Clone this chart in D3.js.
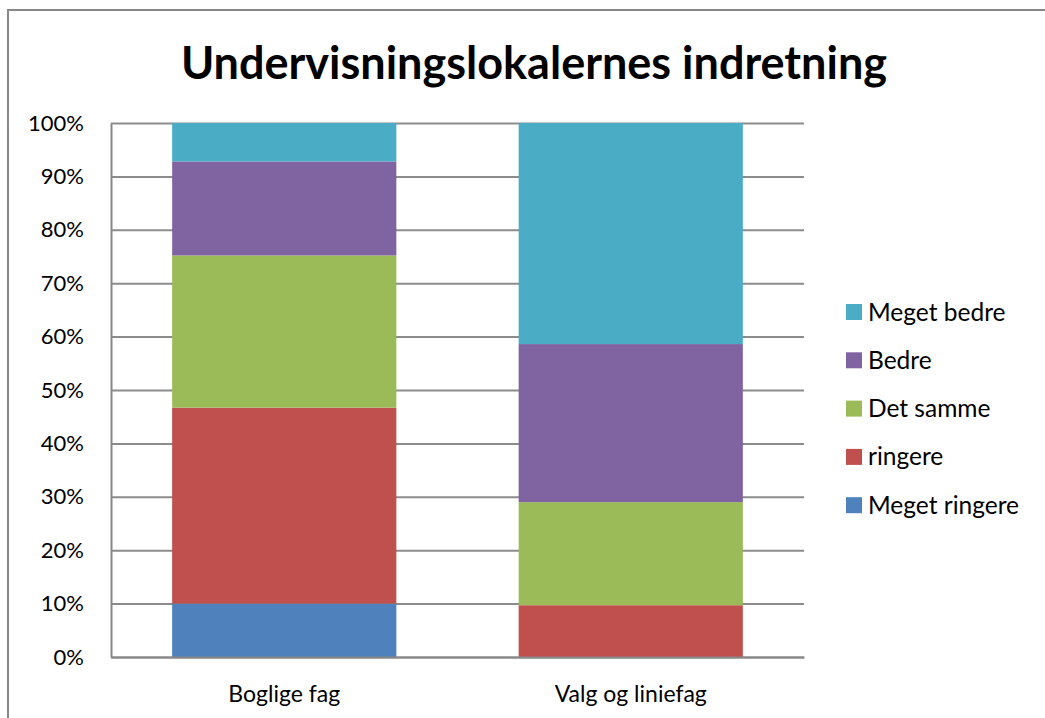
<!DOCTYPE html>
<html lang="da">
<head>
<meta charset="utf-8">
<title>Undervisningslokalernes indretning</title>
<script src="https://d3js.org/d3.v7.min.js"></script>
<style>
  body { margin: 0; background: #fff; }
  svg text { font-family: Lato, "Open Sans", sans-serif; fill: #000; }
  .axis .domain { stroke: #888; stroke-width: 2; }
  .grid line { stroke: #8c8c8c; stroke-width: 2; }
  .grid .domain { display: none; }
</style>
</head>
<body>
<script>
var categories = ['Boglige fag', 'Valg og liniefag'];
var seriesNames = ['Meget ringere', 'ringere', 'Det samme', 'Bedre', 'Meget bedre'];
var seriesColors = ['#4f81bd', '#c0504d', '#9bbb59', '#8064a2', '#4bacc6'];
// percent per category, same order as seriesNames
var boglige = [10.0, 36.7, 28.5, 17.6, 7.2];
var valg = [0, 9.7, 19.3, 29.6, 41.4];
var yTicks = [0, 10, 20, 30, 40, 50, 60, 70, 80, 90, 100];

var w = 1045, h = 718;
var margin = {top: 123, left: 111, right: 241, bottom: 61};
var innerW = w - margin.left - margin.right,
    innerH = h - margin.top - margin.bottom;

var rows = categories.map(function(c, i) {
  var vals = i === 0 ? boglige : valg;
  var r = {cat: c};
  seriesNames.forEach(function(s, j) { r[s] = vals[j]; });
  return r;
});
var stacked = d3.stack().keys(seriesNames)(rows);

var x = d3.scaleBand().domain(categories).range([0, innerW])
  .paddingInner(0.353).paddingOuter(0.1765);
var y = d3.scaleLinear().domain([0, 100]).range([innerH, 0]);
var color = d3.scaleOrdinal().domain(seriesNames).range(seriesColors);

var svg = d3.select('body').append('svg')
  .attr('width', w).attr('height', h);

// chart border
svg.append('rect')
  .attr('x', 8).attr('y', 10).attr('width', w + 10).attr('height', h + 10)
  .attr('fill', 'none').attr('stroke', '#888').attr('stroke-width', 2);

svg.append('text')
  .attr('x', 534).attr('y', 79)
  .attr('text-anchor', 'middle')
  .style('font-size', '45px').style('font-weight', 'bold')
  .text('Undervisningslokalernes indretning');

var g = svg.append('g')
  .attr('transform', 'translate(' + [margin.left, margin.top] + ')');

g.append('g').attr('class', 'grid')
  .call(d3.axisLeft(y).tickValues(yTicks).tickSize(-innerW).tickFormat(''));

g.selectAll('.series')
  .data(stacked)
  .enter().append('g')
    .attr('class', 'series')
    .attr('fill', function(d) { return color(d.key); })
  .selectAll('rect')
  .data(function(d) { return d; })
  .enter().append('rect')
    .attr('x', function(d) { return x(d.data.cat); })
    .attr('width', x.bandwidth())
    .attr('y', function(d) { return y(d[1]); })
    .attr('height', function(d) { return y(d[0]) - y(d[1]); });

var yAxis = g.append('g').attr('class', 'axis')
  .call(d3.axisLeft(y).tickValues(yTicks).tickSize(0).tickPadding(27)
    .tickFormat(function(d) { return d + '%'; }));
yAxis.selectAll('text').style('font-size', '22px');

var xAxis = g.append('g').attr('class', 'axis')
  .attr('transform', 'translate(0,' + innerH + ')')
  .call(d3.axisBottom(x).tickSize(0).tickPadding(29));
xAxis.selectAll('text').style('font-size', '23px');

var legend = svg.append('g')
  .attr('transform', 'translate(846,312)');
var items = legend.selectAll('g')
  .data(seriesNames.slice().reverse())
  .enter().append('g')
    .attr('transform', function(d, i) { return 'translate(0,' + (i * 48.3) + ')'; });
items.append('rect')
  .attr('x', 0).attr('y', -8).attr('width', 16).attr('height', 16)
  .attr('fill', function(d) { return color(d); });
items.append('text')
  .attr('x', 22).attr('dy', '0.35em')
  .style('font-size', '24.5px')
  .text(function(d) { return d; });
</script>
</body>
</html>
